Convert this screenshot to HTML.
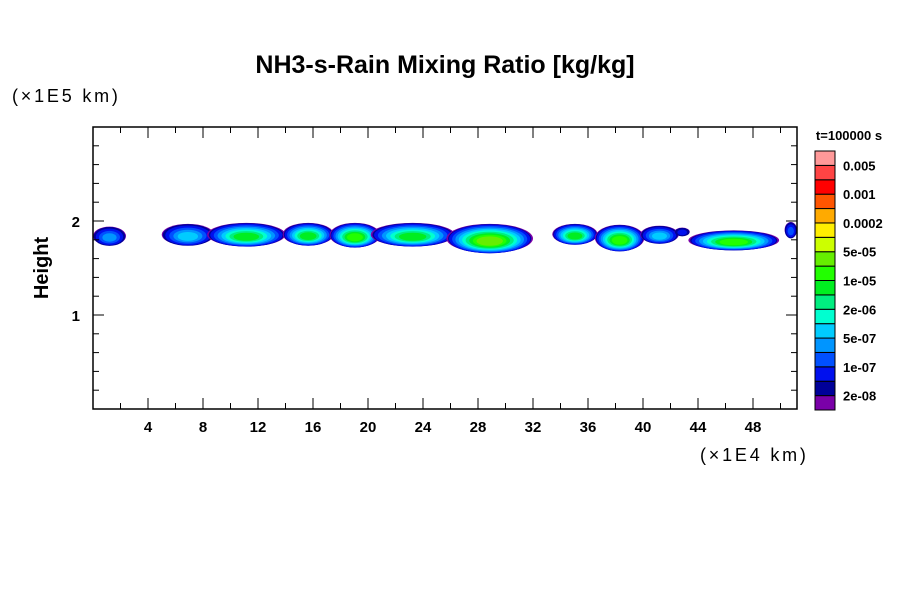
<!DOCTYPE html>
<html><head><meta charset="utf-8"><style>
body{margin:0;background:#fff;}
svg{display:block;font-family:"Liberation Sans",sans-serif;}
</style></head><body>
<svg id="chart" width="900" height="600" viewBox="0 0 900 600">
<defs><clipPath id="pc"><rect x="93" y="127" width="704" height="282"/></clipPath></defs>
<g id="plot" clip-path="url(#pc)"></g>
<g id="axes"></g>
<g id="cbar"></g>
<text x="445" y="73" text-anchor="middle" font-size="25" font-weight="bold">NH3-s-Rain Mixing Ratio [kg/kg]</text>
<text x="12" y="102" font-size="18" letter-spacing="2.8" fill="#000">(×1E5 km)</text>
<text x="700" y="461" font-size="18" letter-spacing="2.8" fill="#000">(×1E4 km)</text>
<text transform="translate(48,268) rotate(-90)" text-anchor="middle" font-size="20" font-weight="bold">Height</text>
<text x="849" y="140" text-anchor="middle" font-size="13" font-weight="bold">t=100000 s</text>
</svg>
<script>
const xTicks=[4,8,12,16,20,24,28,32,36,40,44,48];
const yTicks=[1,2];
const levelColors=["#7a00a8","#000099","#0010ee","#0050ff","#0095ff","#00ccff","#00ffd0","#00ee80","#00ee20","#22ff00","#66ee00","#ccff00","#ffee00","#ffaa00","#ff5500","#ff0000","#ff4444","#ff9999"];
const levelLabels=["2e-08","1e-07","5e-07","2e-06","1e-05","5e-05","0.0002","0.001","0.005"];
// clouds: x range (1E4 km), height range (1E5 km), peak level
const cloudX0=[0,5.0,8.3,13.8,17.2,20.2,25.7,33.4,36.5,39.8,42.3,43.3,50.3];
const cloudX1=[2.4,8.8,14.0,17.5,20.9,26.3,32.0,36.7,40.1,42.6,43.4,49.9,51.2];
const cloudY0=[1.74,1.74,1.73,1.74,1.72,1.73,1.66,1.75,1.68,1.76,1.84,1.69,1.82];
const cloudY1=[1.94,1.97,1.98,1.98,1.98,1.98,1.97,1.97,1.96,1.95,1.93,1.90,1.99];
const cloudPeak=[4,5,8,8,9,8,10,8,9,5,2,9,3];

const X0=93,X1=797,Y0=409,Y1=127,XMAX=51.2,YMAX=3.0;
const sx=v=>X0+(v/XMAX)*(X1-X0);
const sy=v=>Y0-(v/YMAX)*(Y0-Y1);
const NS="http://www.w3.org/2000/svg";
function mk(tag,attrs,parent){const e=document.createElementNS(NS,tag);for(const k in attrs)e.setAttribute(k,attrs[k]);parent.appendChild(e);return e;}
const plot=document.getElementById('plot'),axes=document.getElementById('axes'),cbar=document.getElementById('cbar');

cloudX0.forEach((x0,i)=>{
  const g=mk('g',{},plot);
  
  
  const cx=(sx(x0)+sx(cloudX1[i]))/2, rx=(sx(cloudX1[i])-sx(x0))/2;
  const cyTop=sy(cloudY1[i]), cyBot=sy(cloudY0[i]);
  const cy=(cyTop+cyBot)/2, ry=(cyBot-cyTop)/2;
  const p=cloudPeak[i];
  for(let l=0;l<=p;l++){
    const f=l===0?1:(l===1?0.96:1-0.78*Math.pow((l-1)/p,1.1));
    const e=mk('ellipse',{cx:cx,cy:cy+ry*0.2*(l/(p+1)),rx:rx*f,ry:ry*Math.min(1,f*1.05),fill:levelColors[l]},g);
    
    
  }
});

const frame=mk('rect',{x:X0,y:Y1,width:X1-X0,height:Y0-Y1,fill:'none',stroke:'#000','stroke-width':1.5},axes);


for(let v=2;v<XMAX;v+=2){
  const x=sx(v),L=(v%4===0)?11:6;
  mk('line',{x1:x,x2:x,y1:Y0,y2:Y0-L,stroke:'#000'},axes);
  mk('line',{x1:x,x2:x,y1:Y1,y2:Y1+L,stroke:'#000'},axes);
}
for(let k=1;k<15;k++){
  const v=k*0.2,y=sy(v),L=(k%5===0)?11:6;
  mk('line',{x1:X0,x2:X0+L,y1:y,y2:y,stroke:'#000'},axes);
  mk('line',{x1:X1,x2:X1-L,y1:y,y2:y,stroke:'#000'},axes);
}
xTicks.forEach(v=>{
  const t=mk('text',{x:sx(v),y:432,'text-anchor':'middle','font-size':15,'font-weight':'bold'},axes);
  t.textContent=v;
  
  
});
yTicks.forEach(v=>{
  const t=mk('text',{x:80,y:sy(v)+6,'text-anchor':'end','font-size':15,'font-weight':'bold'},axes);
  t.textContent=v;
  
  
});
const CB0=151,CB1=410,CBX=815,CBW=20,n=levelColors.length,h=(CB1-CB0)/n;
levelColors.forEach((c,i)=>{
  const r=mk('rect',{x:CBX,y:CB1-(i+1)*h,width:CBW,height:h,fill:c,stroke:'#000','stroke-width':1},cbar);
  
  
});
levelLabels.forEach((s,j)=>{
  const t=mk('text',{x:843,y:CB1-(2*j+1)*h+5,'font-size':13,'font-weight':'bold'},cbar);
  t.textContent=s;
  
  
});
</script>
</body></html>
